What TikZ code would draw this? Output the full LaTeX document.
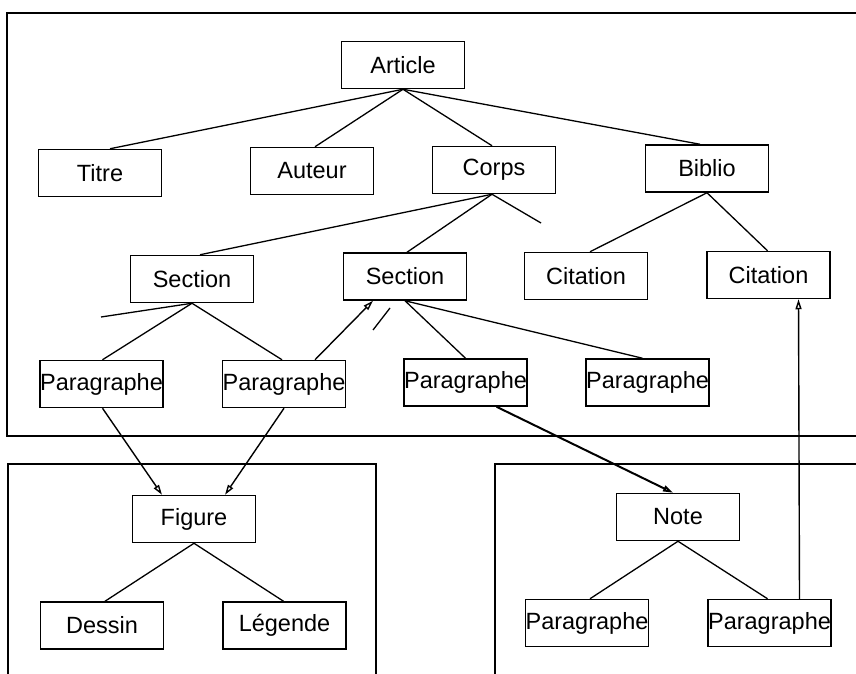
\documentclass[tikz,border=0pt]{standalone}
\usepackage{fontspec}
\setmainfont{Liberation Sans}
\usetikzlibrary{arrows.meta}
\tikzset{
  box/.style={draw, line width=1.5pt, minimum width=123pt, minimum height=47pt, inner sep=0pt,
    font=\fontsize{23.5}{26}\selectfont},
  link/.style={line width=1.3pt},
  ref/.style={line width=1.4pt, -{Triangle[open, length=10pt, width=6pt]}},
  frame/.style={line width=2.2pt}
}
\begin{document}
\begin{tikzpicture}[x=1pt,y=-1pt]
\useasboundingbox (0,0) rectangle (856,674);
% frames
\draw[frame] (856,13) -- (7,13) -- (7,436) -- (856,436);
\draw[frame] (8,674) -- (8,464) -- (376,464) -- (376,674);
\draw[frame] (495,674) -- (495,464) -- (856,464);
% nodes
\node[box] (article) at (403,65) {Article};
\node[box] (titre) at (100,173) {Titre};
\node[box] (auteur) at (312,171) {Auteur};
\node[box] (corps) at (494,170) {Corps};
\node[box] (biblio) at (707,168.5) {Biblio};
\node[box] (sec1) at (192,279) {Section};
\node[box] (sec2) at (405,276.5) {Section};
\node[box] (cit1) at (586,276) {Citation};
\node[box] (cit2) at (768.5,275) {Citation};
\node[box] (p1) at (101.5,384) {Paragraphe};
\node[box] (p2) at (284,384) {Paragraphe};
\node[box] (p3) at (465.5,382.5) {Paragraphe};
\node[box] (p4) at (647.5,382.5) {Paragraphe};
\node[box] (figure) at (194,519) {Figure};
\node[box] (note) at (678,517) {Note};
\node[box] (dessin) at (102,625.5) {Dessin};
\node[box] (legende) at (284.5,625.5) {Légende};
\node[box] (p5) at (587,623) {Paragraphe};
\node[box] (p6) at (769.5,623) {Paragraphe};
% free ends of stubs
\coordinate (stubA) at (541,223);
\coordinate (stubB) at (101,317);
\coordinate (stubC1) at (373,330);
\coordinate (stubC2) at (390,308);
% tree links
\draw[link] (article.south) -- ([xshift=10pt]titre.north);
\draw[link] (article.south) -- ([xshift=3pt]auteur.north);
\draw[link] (article.south) -- ([xshift=-2pt]corps.north);
\draw[link] (article.south) -- ([xshift=-7pt]biblio.north);
\draw[link] ([xshift=-2pt]corps.south) -- ([xshift=8pt]sec1.north);
\draw[link] ([xshift=-2pt]corps.south) -- ([xshift=2pt]sec2.north);
\draw[link] ([xshift=-2pt]corps.south) -- (stubA);
\draw[link] (biblio.south) -- ([xshift=4pt]cit1.north);
\draw[link] (biblio.south) -- ([xshift=-1pt]cit2.north);
\draw[link] (sec1.south) -- ([xshift=1pt]p1.north);
\draw[link] (sec1.south) -- ([xshift=-2pt]p2.north);
\draw[link] (sec1.south) -- (stubB);
\draw[link] (sec2.south) -- (p3.north);
\draw[link] (sec2.south) -- ([xshift=-5pt]p4.north);
\draw[link] (stubC1) -- (stubC2);
\draw[link] (figure.south) -- ([xshift=3pt]dessin.north);
\draw[link] (figure.south) -- ([xshift=-1pt]legende.north);
\draw[link] (note.south) -- ([xshift=3pt]p5.north);
\draw[link] (note.south) -- ([xshift=-2pt]p6.north);
% references
\draw[ref] ([xshift=1pt]p1.south) -- ([xshift=-32pt]figure.north);
\draw[ref] (p2.south) -- ([xshift=31pt]figure.north);
\draw[ref] ([xshift=31pt]p2.north) -- ([xshift=-32pt]sec2.south);
\draw[ref, line width=2pt] ([xshift=31pt]p3.south) -- ([xshift=-5pt]note.north);
\draw[ref] ([xshift=30pt]p6.north) -- ([xshift=30pt]cit2.south);
\end{tikzpicture}
\end{document}
